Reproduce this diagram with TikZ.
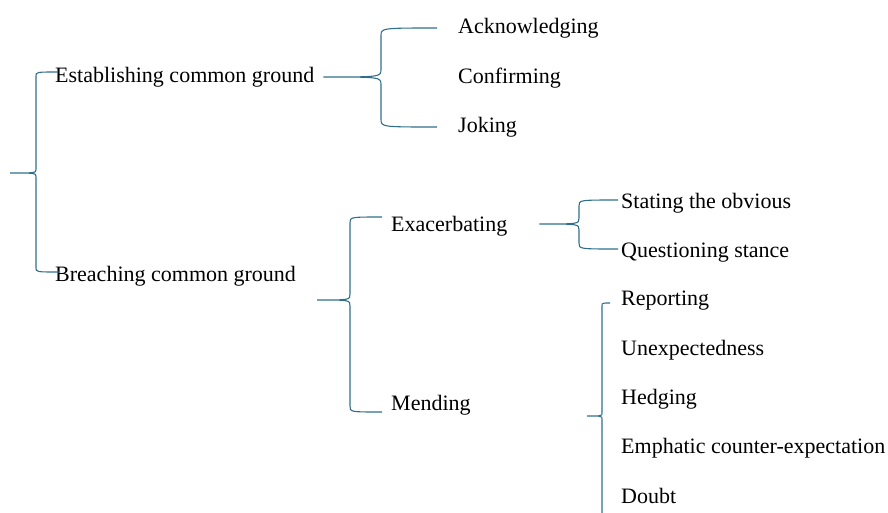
\documentclass[tikz,border=0pt]{standalone}
\usepackage{fontspec}
\setmainfont{Liberation Serif}
\definecolor{bracecol}{RGB}{47,110,140}
\newcommand{\curly}[5]{%
	\draw[brace] (#3) .. controls (#2 |- #3) .. ([yshift=-#5]#2 |- #3)
		-- ([yshift=#5]#2 |- #1) .. controls (#2 |- #1) .. (#1)
		.. controls (#2 |- #1) .. ([yshift=-#5]#2 |- #1)
		-- ([yshift=#5]#2 |- #4) .. controls (#2 |- #4) .. (#4);}
\tikzset{
	lbl/.style={anchor=base west, inner sep=0pt, font=\fontsize{22}{26}\selectfont},
	brace/.style={draw=bracecol, line width=1.1pt}
}

\begin{document}
\begin{tikzpicture}[x=1pt, y=-1pt]
	\clip (0,0) rectangle (888,512);
	\node[lbl] (est) at (55,82) {Establishing common ground};
	\node[lbl] (bre) at (55,281) {Breaching common ground};
	\node[lbl] (ack) at (458,33) {Acknowledging};
	\node[lbl] (con) at (458,83) {Confirming};
	\node[lbl] (jok) at (458,132) {Joking};
	\node[lbl] (exa) at (391,231) {Exacerbating};
	\node[lbl] (men) at (391,410) {Mending};
	\node[lbl] (sta) at (621,208) {Stating the obvious};
	\node[lbl] (que) at (621,257) {Questioning stance};
	\node[lbl] (rep) at (621,305) {Reporting};
	\node[lbl] (une) at (621,355) {Unexpectedness};
	\node[lbl] (hed) at (621,404) {Hedging};
	\node[lbl] (emp) at (621,453) {Emphatic counter-expectation};
	\node[lbl] (dou) at (621,503) {Doubt};

	\coordinate (t0) at (10,173);
	\coordinate (s0) at (36,0);
	\coordinate (a0) at ([shift={(3,-10)}]est.base west);
	\coordinate (b0) at ([shift={(5,-9)}]bre.base west);
	\curly{t0}{s0}{a0}{b0}{4pt}

	\coordinate (t1) at ([shift={(9,-5)}]est.base east);
	\coordinate (s1) at (381,0);
	\coordinate (a1) at ([shift={(-21,-5)}]ack.base west);
	\coordinate (b1) at ([shift={(-21,-5)}]jok.base west);
	\curly{t1}{s1}{a1}{b1}{8pt}

	\coordinate (t2) at ([shift={(21,19)}]bre.base east);
	\coordinate (s2) at (350,0);
	\coordinate (a2) at ([shift={(-9,-14)}]exa.base west);
	\coordinate (b2) at ([shift={(-9,2)}]men.base west);
	\curly{t2}{s2}{a2}{b2}{6pt}

	\coordinate (t3) at ([shift={(32,-7)}]exa.base east);
	\coordinate (s3) at (579,0);
	\coordinate (a3) at ([shift={(-3,-8)}]sta.base west);
	\coordinate (b3) at ([shift={(-3,-8)}]que.base west);
	\curly{t3}{s3}{a3}{b3}{6pt}

	\coordinate (t4) at ([shift={(-34,12)}]hed.base west);
	\coordinate (s4) at (602,0);
	\coordinate (a4) at ([shift={(-11,-2)}]rep.base west);
	\coordinate (b4) at ([shift={(-11,26)}]dou.base west);
	\curly{t4}{s4}{a4}{b4}{3pt}
\end{tikzpicture}
\end{document}
